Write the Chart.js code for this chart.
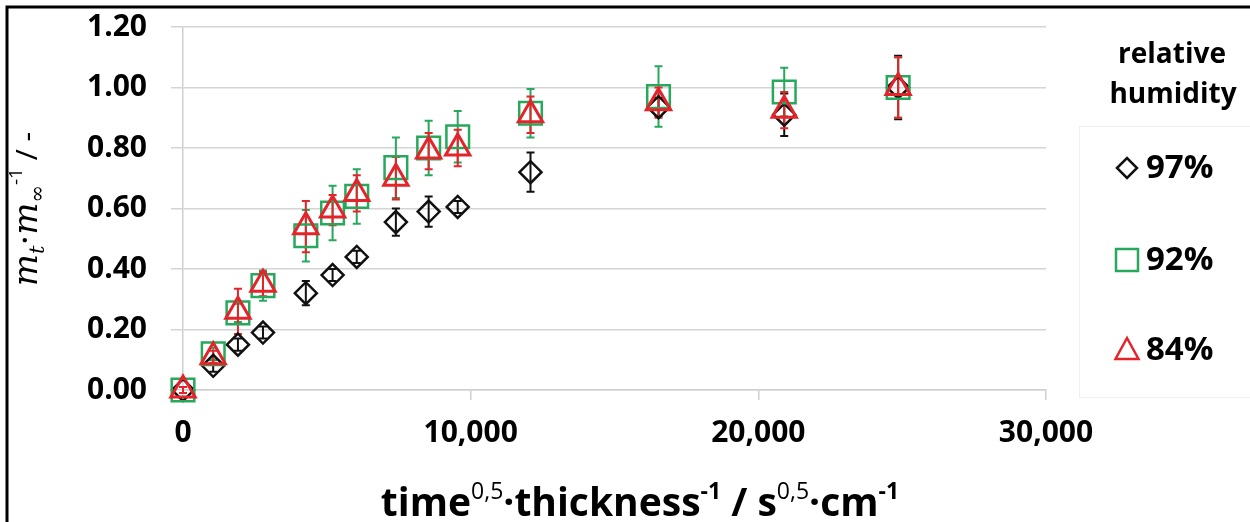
<!doctype html>
<html lang="en">
  <head>
    <meta charset="utf-8">
    <title>Sorption kinetics</title>
    <style>
      * {
        margin: 0;
        padding: 0;
      }
      body {
        background: #ffffff;
      }
      .chartBox {
        width: 1250px;
        height: 522px;
        position: relative;
      }
    </style>
  </head>
  <body>
    <div class="chartBox">
      <canvas id="myChart"></canvas>
    </div>
    <script src="https://cdn.jsdelivr.net/npm/chart.js"></script>
    <script>
    // data
    const xValues = [0, 1050, 1910, 2780, 4270, 5200, 6040, 7400, 8540, 9550, 12080, 16530, 20900, 24860];
    const rh97 = [0, 0.08, 0.15, 0.19, 0.32, 0.38, 0.44, 0.555, 0.59, 0.605, 0.72, 0.935, 0.91, 1.00];
    const rh97Err = [0, 0.02, 0.02, 0.02, 0.04, 0.02, 0.02, 0.045, 0.05, 0.02, 0.065, 0.03, 0.07, 0.105];
    const rh92 = [0, 0.12, 0.255, 0.345, 0.51, 0.585, 0.64, 0.735, 0.80, 0.837, 0.915, 0.97, 0.985, 1.00];
    const rh92Err = [0.01, 0.02, 0.03, 0.05, 0.085, 0.09, 0.09, 0.10, 0.09, 0.085, 0.08, 0.10, 0.08, 0.10];
    const rh84 = [0, 0.11, 0.26, 0.35, 0.54, 0.595, 0.65, 0.70, 0.79, 0.80, 0.91, 0.95, 0.925, 1.00];
    const rh84Err = [0.01, 0.02, 0.075, 0.04, 0.085, 0.05, 0.06, 0.07, 0.06, 0.06, 0.06, 0.05, 0.06, 0.10];
    const seriesLabels = ['97%', '92%', '84%'];
    const legendTitle = ['relative', 'humidity'];

    const BLACK = '#111111';
    const GREEN = '#27a85c';
    const RED = '#e3242b';
    const FONT = '"Open Sans", "DejaVu Sans", sans-serif';

    function toPoints(ys, errs){
      return xValues.map((x, i) => ({x: x, y: ys[i], e: errs[i]}));
    }

    // error bars, drawn under the markers
    const errorBars = {
      id: 'errorBars',
      beforeDatasetsDraw(chart){
        const {ctx, scales: {x, y}} = chart;
        [0, 1, 2].forEach(di => {
          const ds = chart.data.datasets[di];
          ctx.save();
          ctx.strokeStyle = ds.borderColor;
          ctx.lineWidth = 2;
          ds.data.forEach(p => {
            if (!p.e) return;
            const px = x.getPixelForValue(p.x);
            const top = y.getPixelForValue(p.y + p.e);
            const bot = y.getPixelForValue(p.y - p.e);
            ctx.beginPath();
            ctx.moveTo(px, top); ctx.lineTo(px, bot);
            ctx.moveTo(px - 4, top); ctx.lineTo(px + 4, top);
            ctx.moveTo(px - 4, bot); ctx.lineTo(px + 4, bot);
            ctx.stroke();
          });
          ctx.restore();
        });
      }
    };

    function drawRich(ctx, parts, cx, baseY){
      let total = 0;
      parts.forEach(p => { ctx.font = p.f; p.w = ctx.measureText(p.t).width; total += p.w; });
      let cur = cx - total / 2;
      ctx.textBaseline = 'alphabetic';
      ctx.textAlign = 'left';
      parts.forEach(p => {
        ctx.font = p.f;
        ctx.fillText(p.t, cur, baseY + (p.dy || 0));
        cur += p.w;
      });
    }

    function marker(ctx, style, x, y, color){
      ctx.save();
      ctx.strokeStyle = color;
      ctx.lineWidth = 2.5;
      ctx.beginPath();
      if (style === 'rectRot') {
        ctx.moveTo(x - 10, y); ctx.lineTo(x, y - 10); ctx.lineTo(x + 10, y); ctx.lineTo(x, y + 10); ctx.closePath();
      } else if (style === 'rect') {
        ctx.rect(x - 11, y - 11, 22, 22);
      } else {
        ctx.moveTo(x, y - 12); ctx.lineTo(x + 11.5, y + 9); ctx.lineTo(x - 11.5, y + 9); ctx.closePath();
      }
      ctx.stroke();
      ctx.restore();
    }

    // titles, legend and frame
    const decorations = {
      id: 'decorations',
      afterDraw(chart){
        const ctx = chart.ctx;
        ctx.save();
        ctx.fillStyle = '#000';

        // x axis title
        const big = 'bold 39px ' + FONT;
        const sup = 'bold 23px ' + FONT;
        const supL = '23px ' + FONT;
        drawRich(ctx, [
          {t: 'time', f: big}, {t: '0,5', f: supL, dy: -17},
          {t: '·thickness', f: big}, {t: '-1', f: sup, dy: -17},
          {t: ' / s', f: big}, {t: '0,5', f: supL, dy: -17},
          {t: '·cm', f: big}, {t: '-1', f: sup, dy: -17}
        ], 640, 516);

        // y axis title
        ctx.save();
        ctx.translate(37, 209);
        ctx.rotate(-Math.PI / 2);
        const it = 'italic 34px "DejaVu Serif", serif';
        const itS = 'italic 21px "DejaVu Serif", serif';
        drawRich(ctx, [
          {t: 'm', f: it}, {t: 't', f: itS, dy: 7},
          {t: '·', f: '34px "DejaVu Serif", serif'},
          {t: 'm', f: it}, {t: '∞', f: itS, dy: 7},
          {t: '-1', f: '19px ' + FONT, dy: -15},
          {t: ' / -', f: '30px ' + FONT}
        ], 0, 0);
        ctx.restore();

        // legend
        ctx.strokeStyle = '#efefef';
        ctx.lineWidth = 1;
        ctx.strokeRect(1079.5, 126.5, 190, 271);
        ctx.font = 'bold 28px ' + FONT;
        ctx.textAlign = 'center';
        ctx.textBaseline = 'alphabetic';
        ctx.fillText(legendTitle[0], 1172, 63);
        ctx.fillText(legendTitle[1], 1173, 103);
        const rows = [168, 260, 350];
        chart.data.datasets.forEach((ds, i) => {
          marker(ctx, ds.pointStyle, 1127, rows[i], ds.borderColor);
          ctx.fillStyle = '#000';
          ctx.font = 'bold 33px ' + FONT;
          ctx.textAlign = 'left';
          ctx.textBaseline = 'middle';
          ctx.fillText(seriesLabels[i], 1146, rows[i] + 1);
        });

        // outer frame
        ctx.strokeStyle = '#000';
        ctx.lineWidth = 3;
        ctx.beginPath();
        ctx.moveTo(7, 530); ctx.lineTo(7, 7); ctx.lineTo(1260, 7);
        ctx.stroke();
        ctx.restore();
      }
    };

    const data = {
      datasets: [{
        label: seriesLabels[0],
        data: toPoints(rh97, rh97Err),
        pointStyle: 'rectRot',
        pointRadius: 11,
        borderColor: BLACK,
        backgroundColor: 'rgba(0,0,0,0)',
        pointBorderWidth: 2.5,
        order: 3,
        clip: false
      }, {
        label: seriesLabels[1],
        data: toPoints(rh92, rh92Err),
        pointStyle: 'rect',
        pointRadius: 16,
        borderColor: GREEN,
        backgroundColor: 'rgba(0,0,0,0)',
        pointBorderWidth: 2.5,
        order: 2,
        clip: false
      }, {
        label: seriesLabels[2],
        data: toPoints(rh84, rh84Err),
        pointStyle: 'triangle',
        pointRadius: 14,
        borderColor: RED,
        backgroundColor: 'rgba(0,0,0,0)',
        pointBorderWidth: 3,
        order: 1,
        clip: false
      }]
    };

    const scales = {
      x: {
        type: 'linear',
        min: 0,
        max: 30000,
        afterFit(s){ s.height = 132; s.paddingLeft = 0; s.paddingRight = 0; },
        ticks: {
          stepSize: 10000,
          padding: 15,
          color: '#000',
          font: {family: FONT, size: 30, weight: 'bold'},
          callback: v => v.toLocaleString('en-US')
        },
        grid: {
          drawOnChartArea: false,
          tickLength: 10,
          color: '#d0d0d0',
          lineWidth: 1.5
        },
        border: {color: '#d0d0d0', width: 1.5}
      },
      y: {
        min: 0,
        max: 1.2,
        afterFit(s){ s.width = 183; s.paddingTop = 0; s.paddingBottom = 0; },
        ticks: {
          stepSize: 0.2,
          padding: 24,
          color: '#000',
          font: {family: FONT, size: 30, weight: 'bold'},
          callback: v => v.toFixed(2)
        },
        grid: {
          tickLength: 12,
          color: '#d4d4d4',
          lineWidth: 1.5
        },
        border: {color: '#d0d0d0', width: 1.5}
      }
    };

    const config = {
      type: 'scatter',
      data,
      options: {
        responsive: true,
        maintainAspectRatio: false,
        animation: false,
        layout: {padding: {top: 27, right: 204, bottom: 0, left: 0}},
        scales: scales,
        plugins: {
          legend: {display: false},
          tooltip: {enabled: false}
        }
      },
      plugins: [errorBars, decorations]
    };

    const myChart = new Chart(document.getElementById('myChart'), config);
    </script>
  </body>
</html>
